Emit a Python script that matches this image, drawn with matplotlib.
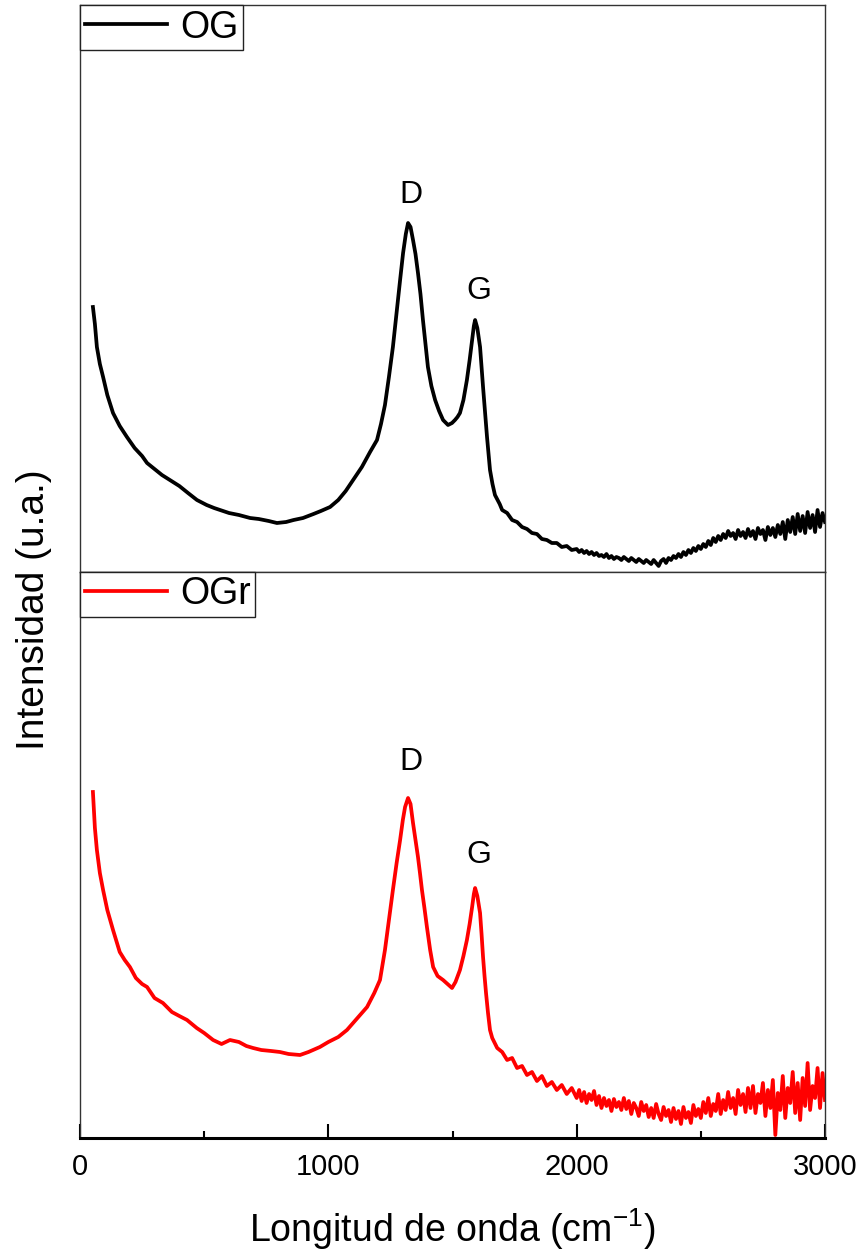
import numpy as np
import matplotlib
matplotlib.use("Agg")
import matplotlib.pyplot as plt
from matplotlib.ticker import MultipleLocator

plt.rcParams['font.family'] = ['Liberation Sans', 'DejaVu Sans']
plt.rcParams['mathtext.fontset'] = 'custom'
plt.rcParams['mathtext.rm'] = 'Liberation Sans'
plt.rcParams['mathtext.it'] = 'Liberation Sans'

# ---------------- data (Raman spectra, arbitrary units) ----------------
og_x_peak = [52, 60, 68, 80, 93, 110, 133, 160, 189, 220, 250, 270, 300, 330, 362, 400,
             435, 471, 510, 540, 564, 600, 640, 685, 720, 760, 793, 830, 860, 898, 940,
             970, 1007, 1040, 1070, 1100, 1135, 1168, 1196, 1212, 1228, 1244, 1260, 1275,
             1289, 1301, 1312, 1321, 1331, 1341, 1351, 1361, 1371, 1381, 1391, 1401, 1415,
             1430, 1446, 1462, 1482, 1498, 1510, 1520, 1530, 1544, 1558, 1569, 1579, 1586,
             1591, 1600, 1611, 1617, 1623, 1631, 1639, 1651, 1661, 1671, 1690]
og_y_peak = [265, 248, 225, 208, 195, 177, 159, 146, 135, 124, 116, 109, 103, 97, 92, 86,
             79, 72, 67, 64, 62, 59, 57, 54, 53, 51, 49, 50, 52, 54, 58,
             61, 65, 72, 81, 92, 105, 120, 132, 148, 167, 195, 225, 260,
             292, 319, 338, 349, 345, 332, 318, 299, 278, 252, 228, 205, 186,
             172, 161, 152, 147, 149, 152, 155, 159, 172, 192, 212, 232, 246,
             252, 244, 225, 205, 185, 160, 135, 102, 88, 77, 68]
og_x_tail = list(range(1700, 2000, 20)) + list(range(2000, 3001, 10))
og_y_tail = [62, 59, 52, 50, 45, 43, 39, 38, 33, 32, 29, 29, 25, 26, 22,
             23, 20, 22, 19, 21, 18, 20, 17, 19, 16,
             17, 15, 18, 14, 16, 13, 15, 14, 12, 15,
             13, 11, 14, 12, 10, 13, 11, 9, 12, 10,
             8, 12, 9, 6, 11, 13, 9, 14, 12, 16,
             14, 18, 15, 20, 17, 22, 19, 24, 21, 26,
             23, 28, 25, 31, 27, 34, 30, 36, 32, 38,
             34, 41, 36, 39, 33, 42, 36, 40, 34, 43,
             36, 41, 33, 44, 38, 42, 32, 45, 37, 44,
             35, 47, 38, 50, 33, 52, 40, 55, 38, 58,
             41, 56, 39, 60, 44, 57, 40, 62, 45, 59,
             50]

ogr_x_peak = [52, 60, 68, 80, 93, 110, 133, 160, 180, 201, 225, 250, 270, 300, 334, 370,
              400, 431, 470, 500, 536, 570, 604, 640, 670, 697, 730, 770, 805, 840, 886,
              920, 966, 1000, 1040, 1075, 1110, 1156, 1185, 1208, 1228, 1244, 1260, 1275,
              1289, 1300, 1309, 1321, 1331, 1341, 1351, 1361, 1369, 1377, 1387, 1397, 1410,
              1422, 1440, 1462, 1480, 1498, 1512, 1530, 1544, 1558, 1569, 1579, 1586, 1591,
              1600, 1611, 1617, 1623, 1629, 1635, 1643, 1651]
ogr_y_peak = [346, 310, 288, 265, 248, 228, 208, 186, 178, 171, 160, 154, 151, 140, 135, 126,
              122, 118, 110, 105, 98, 94, 98, 96, 92, 90, 88, 87, 86, 84, 83,
              86, 91, 96, 101, 108, 118, 131, 145, 158, 188, 218, 248, 275,
              298, 318, 331, 340, 334, 315, 298, 281, 265, 248, 230, 211, 188,
              171, 162, 158, 154, 150, 156, 168, 182, 198, 214, 231, 244, 250,
              242, 225, 204, 181, 162, 145, 125, 108]
ogr_x_tail = list(range(1660, 2000, 20)) + list(range(2000, 3001, 10))
ogr_y_tail = [100, 90, 86, 78, 80, 70, 72, 63, 66, 57, 62, 52, 56, 48, 53, 44, 50,
              40, 48, 37, 46, 35, 44, 38, 47, 33, 42,
              30, 40, 32, 38, 27, 39, 31, 36, 28, 40,
              29, 37, 24, 35, 30, 22, 36, 27, 33, 21,
              30, 20, 34, 24, 18, 31, 22, 28, 16, 30,
              19, 27, 14, 31, 20, 26, 15, 33, 22, 29,
              20, 36, 25, 40, 22, 34, 27, 44, 24, 38,
              28, 46, 30, 40, 24, 48, 33, 44, 26, 50,
              30, 52, 25, 44, 35, 55, 22, 48, 30, 58,
              3, 45, 28, 62, 20, 50, 35, 66, 25, 55,
              18, 60, 32, 75, 28, 52, 40, 70, 30, 65,
              38]

series_labels = ["OG", "OGr"]
series_colors = ["black", "#ff0000"]
peak_labels = ["D", "G"]
x_ticks = [0, 1000, 2000, 3000]

og_x = np.array(og_x_peak + og_x_tail)
og_y = np.array(og_y_peak + og_y_tail)
ogr_x = np.array(ogr_x_peak + ogr_x_tail)
ogr_y = np.array(ogr_y_peak + ogr_y_tail)

# ---------------- figure ----------------
W, H = 863, 1253
fig = plt.figure(figsize=(W / 100, H / 100), dpi=100)
L, R = 80 / W, 825 / W
ax1 = fig.add_axes([L, 1 - 572 / H, R - L, 567 / H])
ax2 = fig.add_axes([L, 1 - 1138 / H, R - L, 566 / H])

datasets = [(ax1, og_x, og_y, 567, [(2, 20), (3, 21)]),
            (ax2, ogr_x, ogr_y, 566, [(2, 26), (3, 24)])]

for i, (ax, x, y, ytop, offs) in enumerate(datasets):
    ax.plot(x, y, color=series_colors[i], lw=2.7, label=series_labels[i],
            solid_joinstyle='round')
    ax.set_xlim(0, 3000)
    ax.set_ylim(0, ytop)
    ax.set_yticks([])
    for s in ax.spines.values():
        s.set_linewidth(1.0)
        s.set_color('#333333')
    mD = (x > 1250) & (x < 1450)
    mG = (x > 1500) & (x < 1700)
    for lab, m, off in zip(peak_labels, [mD, mG], offs):
        k = np.argmax(np.where(m, y, -1))
        ax.annotate(lab, xy=(x[k], y[k]), xytext=off, textcoords='offset points',
                    ha='center', va='center', fontsize=23)
    leg = ax.legend(loc='upper left', bbox_to_anchor=(0, 1), borderaxespad=0,
                    fontsize=27, borderpad=0.12, handlelength=2.2,
                    handletextpad=0.35, fancybox=False, framealpha=1,
                    edgecolor='#222222')
    leg.get_frame().set_linewidth(1.0)
    for h in leg.get_lines():
        h.set_linewidth(2.7)

ax1.set_xticks([])
ax2.set_xticks(x_ticks)
ax2.xaxis.set_minor_locator(MultipleLocator(500))
ax2.tick_params(axis='x', which='major', direction='in', length=10, width=1.5,
                pad=11, labelsize=21)
ax2.tick_params(axis='x', which='minor', direction='in', length=5, width=1.5)
ax2.tick_params(axis='x', which='both', top=False)
for t in ax2.get_xticklabels():
    t.set_family(['Liberation Sans Narrow', 'Liberation Sans'])
ax2.spines['bottom'].set_linewidth(2.2)
ax2.spines['bottom'].set_color('black')

ax2.set_xlabel('Longitud de onda (cm$^{-1}$)', fontsize=27, labelpad=18)
fig.text(34 / W, 1 - 610 / H, 'Intensidad (u.a.)', rotation=90, ha='center',
         va='center', fontsize=28)

fig.savefig('out.png', dpi=100)
